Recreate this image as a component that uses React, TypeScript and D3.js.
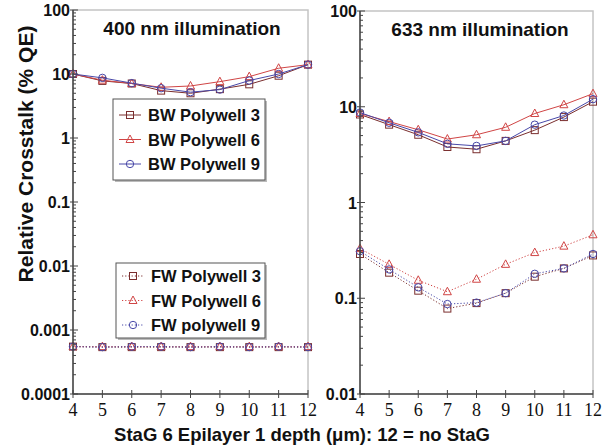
import * as d3 from "d3";

// x positions (epilayer depth, um)
const depths = [4, 5, 6, 7, 8, 9, 10, 11, 12];

// 400 nm illumination
const bw3_400 = [10, 7.8, 7.1, 5.5, 5.0, 5.8, 6.9, 9.4, 14];
const bw6_400 = [10, 8.0, 7.1, 6.2, 6.5, 7.6, 9.1, 12.3, 14];
const bw9_400 = [10, 8.7, 7.2, 6.0, 5.2, 5.7, 7.9, 10.0, 14];
const fw3_400 = [0.00055, 0.00054, 0.00054, 0.00054, 0.00054, 0.00054, 0.00054, 0.00054, 0.00054];
const fw6_400 = [0.00055, 0.00055, 0.00055, 0.00055, 0.00055, 0.00055, 0.00055, 0.00055, 0.00055];
const fw9_400 = [0.00055, 0.00054, 0.00055, 0.00055, 0.00054, 0.00055, 0.00054, 0.00055, 0.00054];

// 633 nm illumination
const bw3_633 = [8.3, 6.5, 5.1, 3.8, 3.6, 4.4, 5.7, 7.8, 11.3];
const bw6_633 = [8.5, 7.0, 5.75, 4.6, 5.1, 6.1, 8.5, 10.5, 13.7];
const bw9_633 = [8.7, 6.8, 5.4, 4.1, 3.9, 4.4, 6.5, 8.1, 12.0];
const fw3_633 = [0.29, 0.185, 0.12, 0.078, 0.089, 0.113, 0.168, 0.205, 0.28];
const fw6_633 = [0.33, 0.226, 0.154, 0.117, 0.158, 0.226, 0.3, 0.35, 0.46];
const fw9_633 = [0.31, 0.2, 0.13, 0.087, 0.09, 0.113, 0.18, 0.205, 0.29];

const bwNames = ["BW Polywell 3", "BW Polywell 6", "BW Polywell 9"];
const fwNames = ["FW Polywell 3", "FW Polywell 6", "FW polywell 9"];
const xTicks = [4, 5, 6, 7, 8, 9, 10, 11, 12];
const yLabels400 = ["0.0001", "0.001", "0.01", "0.1", "1", "10", "100"];
const yLabels633 = ["0.01", "0.1", "1", "10", "100"];

const colors = ["#7a2e2e", "#d04545", "#4848a8"];
const shapes = ["square", "triangle", "circle"];
const sans = "Liberation Sans, Arial, sans-serif";

function Marker({ shape, x, y, color }: { shape: string; x: number; y: number; color: string }) {
    if (shape === "square")
        return <rect x={x - 3.5} y={y - 3.5} width={7} height={7} fill="none" stroke={color} strokeWidth={1} />;
    if (shape === "triangle")
        return (
            <path
                d={`M${x},${y - 4.5}L${x + 4},${y + 3}L${x - 4},${y + 3}Z`}
                fill="none"
                stroke={color}
                strokeWidth={1}
            />
        );
    return <circle cx={x} cy={y} r={3.7} fill="none" stroke={color} strokeWidth={1} />;
}

interface Box {
    x: number;
    y: number;
    w: number;
    h: number;
    first: number;
}

interface PanelProps {
    left: number;
    right: number;
    top: number;
    bottom: number;
    yLabels: string[];
    title: string;
    titleX: number;
    bw: number[][];
    fw: number[][];
    bwLegend?: Box;
    fwLegend?: Box;
}

function Panel(p: PanelProps) {
    const yMin = +p.yLabels[0];
    const yMax = +p.yLabels[p.yLabels.length - 1];
    const x = d3.scaleLinear([4, 12], [p.left, p.right]);
    const y = d3.scaleLog([yMin, yMax], [p.bottom, p.top]);
    const line = d3
        .line<number>()
        .x((_, i) => x(depths[i]))
        .y((d) => y(d));

    const minor: number[] = [];
    for (let k = 0; k < p.yLabels.length - 1; k++) {
        const base = +p.yLabels[k];
        for (let m = 2; m <= 9; m++) minor.push(base * m);
    }

    const legend = (box: Box, names: string[], dashed: boolean) => (
        <g>
            <rect x={box.x + 2} y={box.y + 2} width={box.w} height={box.h} fill="#bbb" />
            <rect x={box.x} y={box.y} width={box.w} height={box.h} fill="#fff" stroke="#555" strokeWidth={1} />
            {names.map((n, i) => {
                const ly = box.y + box.first + i * 24.5;
                return (
                    <g key={n}>
                        <line
                            x1={box.x + 6}
                            x2={box.x + 28}
                            y1={ly}
                            y2={ly}
                            stroke={colors[i]}
                            strokeWidth={1}
                            strokeDasharray={dashed ? "1.2 2" : undefined}
                        />
                        <Marker shape={shapes[i]} x={box.x + 17} y={ly} color={colors[i]} />
                        <text x={box.x + 35} y={ly + 6} fontFamily={sans} fontWeight="bold" fontSize={16.5} fill="#111">
                            {n}
                        </text>
                    </g>
                );
            })}
        </g>
    );

    return (
        <g>
            <rect
                x={p.left}
                y={p.top}
                width={p.right - p.left}
                height={p.bottom - p.top}
                fill="#fff"
                stroke="#c4c4c4"
                strokeWidth={1.5}
            />
            {p.fw.map((s, i) => (
                <g key={"fw" + i}>
                    <path d={line(s) ?? ""} fill="none" stroke={colors[i]} strokeWidth={1} strokeDasharray="1.2 2" />
                    {s.map((v, j) => (
                        <Marker key={j} shape={shapes[i]} x={x(depths[j])} y={y(v)} color={colors[i]} />
                    ))}
                </g>
            ))}
            {p.bw.map((s, i) => (
                <g key={"bw" + i}>
                    <path d={line(s) ?? ""} fill="none" stroke={colors[i]} strokeWidth={1} />
                    {s.map((v, j) => (
                        <Marker key={j} shape={shapes[i]} x={x(depths[j])} y={y(v)} color={colors[i]} />
                    ))}
                </g>
            ))}
            {/* axes */}
            <line x1={p.left} x2={p.left} y1={p.top} y2={p.bottom} stroke="#444" strokeWidth={1.5} />
            <line x1={p.left} x2={p.right} y1={p.bottom} y2={p.bottom} stroke="#444" strokeWidth={1.5} />
            {minor.map((v) => (
                <line key={v} x1={p.left} x2={p.left + 3} y1={y(v)} y2={y(v)} stroke="#444" strokeWidth={1} />
            ))}
            {p.yLabels.map((l) => (
                <g key={l}>
                    <line x1={p.left - 3} x2={p.left + 5} y1={y(+l)} y2={y(+l)} stroke="#444" strokeWidth={1} />
                    <text
                        x={p.left - 3}
                        y={y(+l) + 6}
                        textAnchor="end"
                        fontFamily={sans}
                        fontWeight="bold"
                        fontSize={16}
                        fill="#111"
                    >
                        {l}
                    </text>
                </g>
            ))}
            {xTicks.map((t) => (
                <g key={t}>
                    <line x1={x(t)} x2={x(t)} y1={p.bottom - 4} y2={p.bottom + 4} stroke="#444" strokeWidth={1} />
                    <text
                        x={x(t)}
                        y={p.bottom + 22}
                        textAnchor="middle"
                        fontFamily="Liberation Serif, Times New Roman, serif"
                        fontSize={18}
                        fill="#111"
                    >
                        {t}
                    </text>
                </g>
            ))}
            <text
                x={p.titleX}
                y={p.top + 25}
                textAnchor="middle"
                fontFamily={sans}
                fontWeight="bold"
                fontSize={19}
                fill="#111"
            >
                {p.title}
            </text>
            {p.bwLegend && legend(p.bwLegend, bwNames, false)}
            {p.fwLegend && legend(p.fwLegend, fwNames, true)}
        </g>
    );
}

export default function App() {
    return (
        <svg width={607} height={448} style={{ position: "absolute", left: 0, top: 0, background: "#fff" }}>
            <rect width={607} height={448} fill="#fff" />
            <Panel
                left={73}
                right={308}
                top={10}
                bottom={394}
                yLabels={yLabels400}
                title="400 nm illumination"
                titleX={192}
                bw={[bw3_400, bw6_400, bw9_400]}
                fw={[fw3_400, fw6_400, fw9_400]}
                bwLegend={{ x: 113, y: 99, w: 152, h: 81, first: 16 }}
                fwLegend={{ x: 116, y: 263, w: 149, h: 75, first: 13 }}
            />
            <Panel
                left={360}
                right={593}
                top={11}
                bottom={394}
                yLabels={yLabels633}
                title="633 nm illumination"
                titleX={480}
                bw={[bw3_633, bw6_633, bw9_633]}
                fw={[fw3_633, fw6_633, fw9_633]}
            />
            <text
                transform="translate(33,154) rotate(-90)"
                textAnchor="middle"
                fontFamily={sans}
                fontWeight="bold"
                fontSize={21}
                fill="#111"
            >
                Relative Crosstalk (% QE)
            </text>
            <text x={302} y={441} textAnchor="middle" fontFamily={sans} fontWeight="bold" fontSize={18.5} fill="#111">
                StaG 6 Epilayer 1 depth (μm): 12 = no StaG
            </text>
        </svg>
    );
}
